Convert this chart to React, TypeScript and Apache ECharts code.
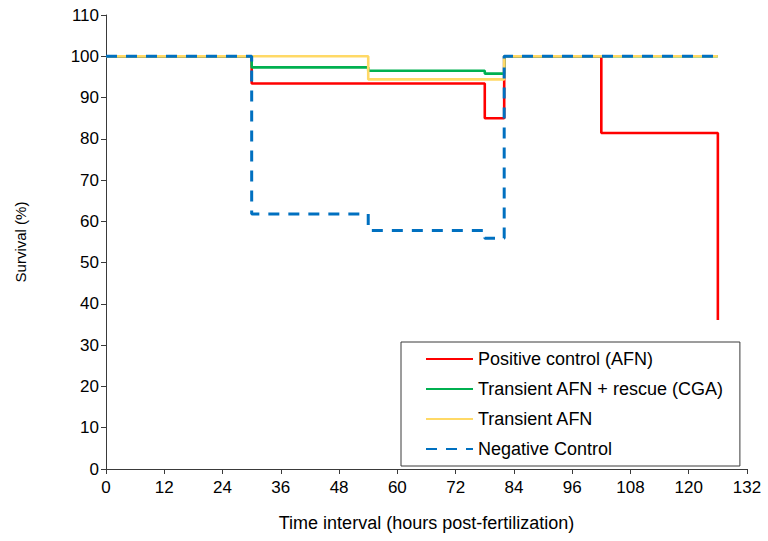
import React, { useEffect, useRef } from "react";
import * as echarts from "echarts";

const seriesNames = [
  "Positive control (AFN)",
  "Transient AFN + rescue (CGA)",
  "Transient AFN",
  "Negative Control",
];

// [hours post-fertilization, survival %] step points
const positiveControl: [number, number][] = [
  [0, 100], [30, 93.4], [78, 85], [82, 100], [102, 81.4], [126, 36.1],
];
const transientRescue: [number, number][] = [
  [0, 100], [30, 97.3], [54, 96.5], [78, 95.8], [82, 100], [126, 100],
];
const transientAFN: [number, number][] = [
  [0, 100], [54, 94.4], [82, 100], [126, 100],
];
const negativeControl: [number, number][] = [
  [0, 100], [30, 61.8], [54, 57.8], [78, 55.9], [82, 100], [126, 100],
];

const colors = ["#FF0000", "#00B050", "#FFD966", "#0070C0"];
const FONT = "'Liberation Sans', Arial, sans-serif";

export default function App() {
  const ref = useRef<HTMLDivElement>(null);
  useEffect(() => {
    if (!ref.current) return;
    const chart = echarts.init(ref.current, undefined, { renderer: "svg" });
    const data = [positiveControl, transientRescue, transientAFN, negativeControl];
    chart.setOption({
      animation: false,
      textStyle: { fontFamily: FONT },
      grid: { left: 106, right: 21, top: 15, bottom: 72, containLabel: false },
      xAxis: {
        type: "value",
        min: 0,
        max: 132,
        interval: 12,
        name: "Time interval (hours post-fertilization)",
        nameLocation: "middle",
        nameGap: 45,
        nameTextStyle: { fontSize: 18, color: "#000", fontFamily: FONT },
        axisLine: { show: true, lineStyle: { color: "#3a3a3a", width: 1 } },
        axisTick: { show: true, inside: false, length: 5, lineStyle: { color: "#3a3a3a" } },
        axisLabel: { fontSize: 17, color: "#000", margin: 10, fontFamily: FONT },
        splitLine: { show: false },
      },
      yAxis: {
        type: "value",
        min: 0,
        max: 110,
        interval: 10,
        name: "Survival (%)",
        nameLocation: "middle",
        nameGap: 78,
        nameRotate: 90,
        nameTextStyle: { fontSize: 15, color: "#000", fontFamily: FONT },
        axisLine: { show: true, lineStyle: { color: "#3a3a3a", width: 1 } },
        axisTick: { show: true, inside: false, length: 5, lineStyle: { color: "#3a3a3a" } },
        axisLabel: { fontSize: 17, color: "#000", margin: 7, fontFamily: FONT },
        splitLine: { show: false },
      },
      legend: {
        orient: "vertical",
        left: 401,
        top: 342,
        itemWidth: 47,
        itemHeight: 14,
        itemGap: 12,
        padding: [8, 16, 8, 24],
        borderColor: "#3a3a3a",
        borderWidth: 1,
        backgroundColor: "#fff",
        itemStyle: { opacity: 0 },
        textStyle: { fontSize: 18, color: "#000", fontFamily: FONT, padding: [0, 0, 0, 0] },
        data: seriesNames,
      },
      series: seriesNames.map((name, i) => ({
        name,
        type: "line",
        step: "end",
        symbol: "none",
        showSymbol: false,
        data: data[i],
        color: colors[i],
        lineStyle: {
          color: colors[i],
          width: i === 3 ? 3 : 2.6,
          type: i === 3 ? [11, 9] : "solid",
        },
        z: 2 + i,
      })),
    });
    return () => chart.dispose();
  }, []);
  return <div ref={ref} style={{ width: 768, height: 541, position: "absolute", left: 0, top: 0 }} />;
}
